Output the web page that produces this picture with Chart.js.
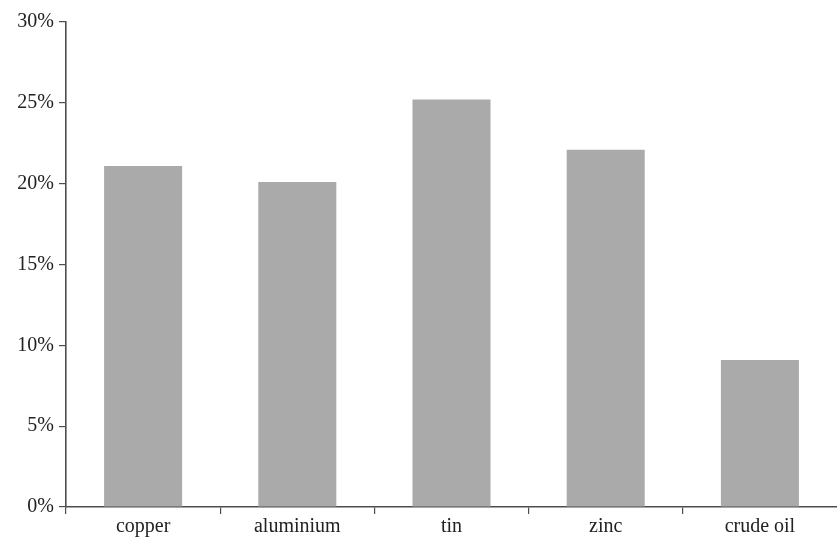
<!DOCTYPE html>
<html>
<head>
<meta charset="utf-8">
<script src="https://cdn.jsdelivr.net/npm/chart.js@4"></script>
<style>
  html, body { margin: 0; padding: 0; background: #fff; }
  #wrap { width: 837px; height: 541px; }
</style>
</head>
<body>
<div id="wrap"><canvas id="barChart"></canvas></div>
<script>
// data
var commodities = ['copper', 'aluminium', 'tin', 'zinc', 'crude oil'];
var shares = [21.1, 20.1, 25.2, 22.1, 9.1];
var yTicks = [0, 5, 10, 15, 20, 25, 30];

var axisColor = '#4d4d4d';
var barColor = '#abaaab';

Chart.defaults.font.family = '"Liberation Serif", "DejaVu Serif", serif';
Chart.defaults.font.size = 20;
Chart.defaults.color = '#222';

const ctx = document.getElementById('barChart').getContext('2d');

chart = new Chart(ctx, {
    type: 'bar',
    data: {
        labels: commodities,
        datasets: [
            { data: shares, backgroundColor: barColor, barPercentage: 0.506, categoryPercentage: 1.0 }
        ]
    },
    options: {
        responsive: true,
        maintainAspectRatio: false,
        animation: false,
        layout: { padding: { top: 22, right: 0, left: 0, bottom: 0 } },
        plugins: {
            legend: { display: false },
            tooltip: { enabled: false }
        },
        scales: {
            x: {
                grid: {
                    offset: true, drawOnChartArea: false, drawTicks: true, tickLength: 7, lineWidth: 1.2,
                    // the extra line at the right edge gets the scale context, hide it
                    color: function (c) { return c.type === 'tick' ? axisColor : 'rgba(0,0,0,0)'; }
                },
                border: { color: axisColor, width: 1.6 },
                ticks: { padding: 1 },
                afterFit: function (scale) { scale.height = 34; }
            },
            y: {
                min: 0,
                max: 30,
                afterBuildTicks: function (scale) {
                    scale.ticks = yTicks.map(function (v) { return { value: v }; });
                },
                grid: { drawOnChartArea: false, drawTicks: true, tickLength: 7, color: axisColor, lineWidth: 1.2 },
                border: { color: axisColor, width: 1.6 },
                ticks: {
                    padding: 5,
                    callback: function (v) { return v + '%'; }
                },
                afterFit: function (scale) { scale.width = 66; }
            }
        }
    }
});
</script>
</body>
</html>
